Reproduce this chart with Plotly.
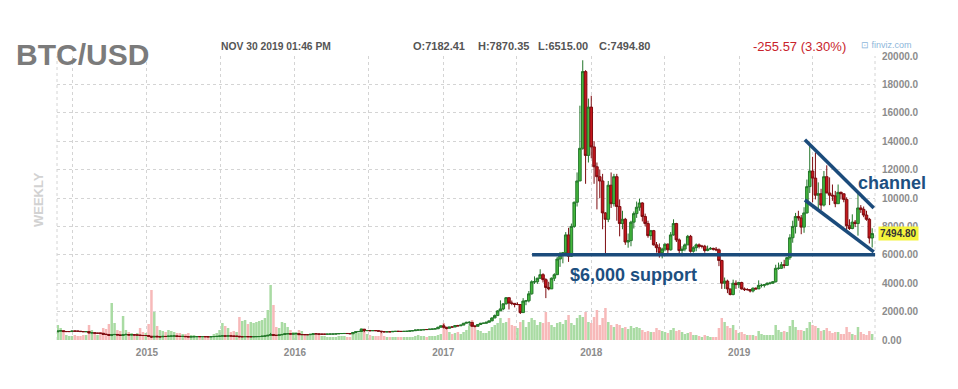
import pandas as pd
import plotly.graph_objects as go

# ---------------- data (weekly candles) ----------------
first_week = "2014-05-26"
first_open = 575.0

closes = [
    # 2014 (from May 26)
    630, 655, 595, 595, 595, 630, 625, 620, 595, 585, 590, 500, 510, 480, 480, 475,
    405, 390, 330, 375, 390, 355, 325, 370, 385, 350, 375, 350, 350, 320, 315, 315,
    # 2015
    265, 210, 255, 225, 225, 255, 245, 275, 275, 285, 260, 250, 255, 235, 220, 225,
    235, 240, 235, 240, 230, 225, 235, 245, 255, 275, 290, 275, 290, 280, 265, 265,
    230, 230, 240, 230, 230, 235, 240, 245, 270, 285, 330, 380, 330, 325, 360, 390,
    435, 440, 420, 430,
    # 2016
    450, 380, 380, 375, 375, 400, 435, 430, 410, 410, 410, 415, 420, 420, 430, 455,
    455, 460, 455, 440, 530, 580, 600, 760, 665, 670, 650, 665, 655, 625, 590, 570,
    580, 575, 605, 610, 608, 600, 610, 615, 640, 655, 700, 705, 705, 740, 735, 765,
    770, 790, 900, 1000,
    # 2017
    900, 825, 920, 915, 1015, 1000, 1050, 1180, 1240, 1240, 970, 965, 1090, 1180, 1180, 1250,
    1345, 1550, 1720, 2050, 2190, 2550, 2980, 2600, 2580, 2500, 2500, 1930, 2740, 2760, 3250, 4100,
    4100, 4350, 4600, 4250, 3700, 3600, 4350, 4600, 5700, 6000, 6150, 7400, 5900, 8000, 9700, 11200,
    13500, 18900, 13000, 16400,
    # 2018
    13600, 12200, 11500, 11200, 8950, 8500, 10900, 9600, 11500, 9400, 8200, 8500, 6900, 7000, 8300, 8900,
    9350, 9650, 8700, 8200, 7350, 7700, 6700, 6500, 6150, 6400, 6750, 6350, 7400, 8200, 7050, 6300,
    6400, 6700, 7300, 6250, 6500, 6700, 6600, 6600, 6300, 6400, 6450, 6400, 6350, 5600, 4000, 4150,
    3600, 3200, 4000, 3900, 4050,
    # 2019
    3600, 3550, 3550, 3450, 3650, 3600, 3850, 3850, 3900, 4000, 4000, 4100, 5050, 5050, 5300, 5250,
    5800, 7200, 8000, 8700, 8600, 7950, 8950, 10800, 11900, 11400, 10200, 10300, 9500, 11500, 10350, 10200,
    10150, 9600, 10400, 10300, 9900, 8050, 7850, 8300, 8200, 9300, 9200, 8800, 8500, 7182.41, 7494.80,
]

highs = [
    # 2014
    635, 680, 660, 610, 615, 650, 640, 630, 625, 600, 600, 590, 525, 515, 490, 485,
    480, 435, 395, 385, 410, 390, 365, 375, 460, 390, 385, 385, 360, 355, 335, 330,
    # 2015
    320, 275, 265, 310, 240, 265, 260, 280, 300, 300, 290, 270, 265, 260, 240, 240,
    245, 245, 245, 245, 242, 232, 238, 255, 260, 280, 310, 295, 300, 298, 285, 275,
    265, 240, 245, 245, 235, 240, 245, 248, 275, 290, 335, 500, 390, 335, 365, 420,
    470, 470, 445, 440,
    # 2016
    465, 450, 410, 395, 380, 405, 445, 440, 440, 420, 420, 420, 425, 425, 432, 460,
    470, 465, 460, 455, 535, 590, 610, 780, 780, 680, 690, 675, 675, 660, 630, 595,
    585, 585, 610, 630, 615, 610, 615, 620, 645, 660, 720, 740, 720, 750, 745, 770,
    775, 795, 930, 1000,
    # 2017
    1140, 910, 925, 925, 1025, 1065, 1055, 1190, 1280, 1330, 1250, 1060, 1100, 1200, 1215, 1255,
    1360, 1600, 1800, 2100, 2790, 2560, 3020, 2980, 2780, 2580, 2650, 2500, 2950, 2820, 3450, 4200,
    4480, 4380, 4980, 4700, 4350, 4100, 4400, 4700, 5850, 6200, 6200, 7600, 7900, 8200, 9750, 11800,
    16500, 19700, 19000, 17000,
    # 2018
    17200, 14000, 12500, 12000, 11700, 9000, 11200, 11800, 11700, 11700, 9900, 9100, 8600, 7500, 8400, 9050,
    9750, 9950, 9700, 8900, 8400, 7750, 7750, 6900, 6800, 6500, 6800, 6800, 7600, 8500, 8250, 7150,
    6600, 6800, 7400, 7400, 6600, 6800, 6800, 6700, 6700, 6650, 6550, 6500, 6550, 6450, 5650, 4400,
    4250, 3600, 4250, 4200, 4100,
    # 2019
    4100, 3700, 3650, 3550, 3700, 3700, 4200, 3950, 3950, 4050, 4100, 4150, 5300, 5450, 5500, 5650,
    5850, 7450, 8400, 8950, 9100, 8800, 9350, 11300, 13800, 12900, 13200, 11100, 10650, 11900, 12300, 11450,
    10950, 10500, 10950, 10450, 10300, 10050, 8500, 8850, 8450, 10350, 9500, 9400, 9100, 8600, 7870.35,
]

lows = [
    # 2014
    565, 620, 560, 560, 560, 595, 610, 605, 590, 575, 575, 460, 470, 470, 470, 440,
    395, 385, 290, 275, 365, 345, 320, 320, 365, 345, 345, 345, 345, 305, 310, 310,
    # 2015
    255, 165, 200, 215, 210, 215, 230, 235, 270, 270, 245, 240, 235, 230, 215, 215,
    220, 230, 230, 230, 225, 220, 220, 230, 240, 250, 265, 270, 270, 275, 255, 255,
    195, 210, 225, 225, 225, 225, 235, 235, 245, 265, 280, 320, 305, 315, 315, 355,
    385, 430, 410, 415,
    # 2016
    425, 360, 365, 365, 365, 370, 400, 410, 400, 405, 405, 405, 410, 415, 420, 425,
    440, 440, 445, 435, 440, 520, 570, 600, 550, 610, 630, 645, 650, 620, 480, 565,
    565, 570, 570, 600, 600, 590, 595, 605, 615, 630, 650, 690, 700, 695, 725, 730,
    755, 765, 790, 880,
    # 2017
    810, 750, 820, 880, 910, 945, 990, 1050, 1170, 1000, 940, 890, 960, 1070, 1160, 1160,
    1240, 1340, 1550, 1700, 2050, 2100, 2500, 2150, 2450, 2300, 2450, 1830, 1900, 2450, 2650, 3200,
    3950, 3950, 4300, 4050, 2950, 3500, 3600, 4150, 4600, 5150, 5400, 6100, 5500, 5850, 7900, 9400,
    11200, 13400, 11000, 12500,
    # 2018
    12800, 11000, 9200, 10000, 7800, 6000, 8300, 9300, 9400, 8400, 7300, 7800, 6700, 6500, 6600, 7850,
    8600, 9100, 8350, 8000, 7200, 7050, 6650, 6150, 5800, 5750, 6250, 6100, 6300, 7350, 6900, 5950,
    5900, 6250, 6700, 6150, 6150, 6250, 6450, 6450, 6150, 6250, 6350, 6300, 6250, 5200, 3600, 3600,
    3300, 3150, 3150, 3600, 3650,
    # 2019
    3550, 3450, 3480, 3350, 3350, 3550, 3600, 3700, 3700, 3850, 3900, 3950, 4050, 4950, 5000, 5050,
    5250, 5650, 6850, 7500, 8400, 7450, 7550, 8900, 10350, 9700, 9900, 9100, 9150, 9400, 10350, 9500,
    9800, 9350, 9600, 9900, 9700, 7750, 7750, 7800, 7950, 7350, 8950, 8650, 8400, 6800, 6515.00,
]

volumes = [
    # 2014
    15, 12, 8, 5, 4, 4, 5, 4, 4, 5, 5, 15, 10, 6, 5, 8,
    12, 11, 16, 37, 17, 10, 9, 24, 10, 8, 7, 6, 7, 12, 8, 7,
    # 2015
    16, 50, 28, 14, 10, 9, 8, 10, 9, 8, 7, 7, 6, 6, 7, 5,
    5, 4, 4, 3, 4, 4, 4, 6, 7, 10, 17, 14, 12, 8, 9, 8,
    23, 19, 20, 16, 18, 17, 18, 19, 20, 22, 30, 55, 35, 13, 12, 18,
    17, 13, 10, 8,
    # 2016
    8, 10, 9, 6, 5, 5, 6, 5, 5, 4, 4, 3, 3, 3, 3, 4,
    4, 4, 3, 3, 6, 8, 7, 12, 11, 6, 5, 4, 4, 4, 7, 4,
    3, 3, 3, 3, 3, 3, 3, 3, 3, 3, 4, 5, 4, 4, 3, 4,
    4, 4, 5, 6,
    # 2017
    17, 12, 8, 6, 7, 8, 6, 8, 10, 14, 20, 14, 10, 9, 7, 7,
    9, 13, 15, 17, 22, 17, 18, 22, 15, 14, 12, 18, 20, 13, 18, 22,
    20, 15, 18, 17, 28, 18, 15, 13, 17, 18, 16, 20, 25, 17, 15, 22,
    25, 23, 28, 18,
    # 2018
    17, 23, 30, 15, 22, 32, 18, 15, 13, 16, 15, 12, 13, 11, 14, 12,
    13, 12, 10, 8, 9, 8, 8, 12, 10, 9, 8, 7, 10, 12, 9, 10,
    8, 6, 7, 8, 5, 5, 4, 3, 5, 4, 3, 3, 3, 12, 22, 18,
    14, 12, 15, 10, 7,
    # 2019
    8, 6, 5, 5, 5, 4, 9, 6, 5, 5, 5, 5, 15, 10, 8, 9,
    8, 14, 20, 13, 10, 10, 9, 12, 18, 15, 14, 12, 9, 10, 12, 9,
    7, 8, 8, 6, 6, 13, 8, 6, 5, 13, 8, 6, 5, 9, 6,
]

price_ticks = [0, 2000, 4000, 6000, 8000, 10000, 12000, 14000, 16000, 18000, 20000]
price_tick_labels = ["0.00", "2000.00", "4000.00", "6000.00", "8000.00", "10000.0",
                     "12000.0", "14000.0", "16000.0", "18000.0", "20000.0"]
year_ticks = ["2015-01-01", "2016-01-01", "2017-01-01", "2018-01-01", "2019-01-01"]
year_labels = ["2015", "2016", "2017", "2018", "2019"]
mid_year_ticks = ["2014-07-01", "2015-07-01", "2016-07-01", "2017-07-01",
                  "2018-07-01", "2019-07-01"]

support_level = 6000
support_span = ["2017-08-08", "2019-12-02"]
channel_upper_x = ["2019-06-12", "2019-11-29"]
channel_upper_y = [14100, 9300]
channel_lower_x = ["2019-06-12", "2019-11-29"]
channel_lower_y = [9860, 6200]

last_close = 7494.80
header_time = "NOV 30 2019 01:46 PM"
header_ohlc = ["O:7182.41", "H:7870.35", "L:6515.00", "C:7494.80"]
header_change = "-255.57 (3.30%)"

# ---------------- figure ----------------
dates = pd.date_range(first_week, periods=len(closes), freq="7D")
opens = [first_open] + closes[:-1]
vol_colors = ["#a9dba3" if c >= o else "#f7b9b9" for o, c in zip(opens, closes)]

FONT = "Liberation Sans, Arial, Helvetica, sans-serif"
GRID = "#d4d4d4"
NAVY = "#1b4b7b"

# page body has an 8px margin: figure is 950x381 placed at (8, 8)
W, H = 950, 381
ML, MR, MT, MB = 49, 83, 48, 49
PW, PH = W - ML - MR, H - MT - MB


def px_x(sx):
    """screen x (page pixels) -> paper x"""
    return (sx - 8 - ML) / PW


def px_y(sy):
    """screen y (page pixels) -> paper y"""
    return (H - MB - (sy - 8)) / PH


fig = go.Figure()
fig.add_trace(go.Bar(
    x=dates, y=volumes, marker_color=vol_colors, marker_line_width=0,
    yaxis="y", showlegend=False, hoverinfo="skip",
))
fig.add_trace(go.Candlestick(
    x=dates, open=opens, high=highs, low=lows, close=closes, yaxis="y2",
    increasing=dict(fillcolor="#44b83c", line=dict(color="#23762a", width=1)),
    decreasing=dict(fillcolor="#c4161c", line=dict(color="#7e0c10", width=1)),
    whiskerwidth=0, showlegend=False,
))

line_shapes = [
    dict(type="line", xref="x", yref="y2", x0=support_span[0], x1=support_span[1],
         y0=support_level, y1=support_level, line=dict(color=NAVY, width=3.5)),
    dict(type="line", xref="x", yref="y2", x0=channel_upper_x[0], x1=channel_upper_x[1],
         y0=channel_upper_y[0], y1=channel_upper_y[1], line=dict(color=NAVY, width=3.5)),
    dict(type="line", xref="x", yref="y2", x0=channel_lower_x[0], x1=channel_lower_x[1],
         y0=channel_lower_y[0], y1=channel_lower_y[1], line=dict(color=NAVY, width=3.5)),
    dict(type="line", xref="paper", yref="paper", x0=0, x1=0, y0=0, y1=1,
         line=dict(color=GRID, width=1, dash="dot"), layer="below"),
    dict(type="line", xref="paper", yref="paper", x0=1, x1=1, y0=0, y1=1,
         line=dict(color=GRID, width=1, dash="dot"), layer="below"),
]

hdr_font = dict(family=FONT, size=11, color="#555555")
annotations = [
    dict(text="<b>BTC/USD</b>", xref="paper", yref="paper", x=px_x(14), y=px_y(55),
         xanchor="left", yanchor="middle", showarrow=False,
         font=dict(family=FONT, size=30, color="#7b7b7b")),
    dict(text="<b>" + header_time + "</b>", xref="paper", yref="paper", x=px_x(219), y=px_y(46),
         xanchor="left", yanchor="middle", showarrow=False,
         font=dict(family=FONT, size=10.3, color="#555555")),
    dict(text=header_change, xref="paper", yref="paper", x=px_x(751), y=px_y(47),
         xanchor="left", yanchor="middle", showarrow=False,
         font=dict(family=FONT, size=13, color="#c8232c")),
    dict(text="⊡ finviz.com", xref="paper", yref="paper", x=px_x(859), y=px_y(45),
         xanchor="left", yanchor="middle", showarrow=False,
         font=dict(family=FONT, size=9, color="#8db6da")),
    dict(text="<b>WEEKLY</b>", xref="paper", yref="paper", x=px_x(38), y=px_y(200),
         xanchor="center", yanchor="middle", textangle=-90, showarrow=False,
         font=dict(family=FONT, size=13, color="#d2d2d2")),
    dict(text="<b>%.2f</b>" % last_close, xref="paper", yref="y2", x=px_x(878), y=last_close,
         xanchor="left", yanchor="middle", showarrow=False, bgcolor="#f4f43c",
         borderpad=1, font=dict(family=FONT, size=10, color="#333333")),
    dict(text="<b>$6,000 support</b>", xref="x", yref="y2", x="2018-04-14", y=4580,
         xanchor="center", yanchor="middle", showarrow=False,
         font=dict(family=FONT, size=18, color="#1d4f80")),
    dict(text="<b>channel</b>", xref="paper", yref="y2", x=px_x(892), y=11056,
         xanchor="center", yanchor="middle", showarrow=False,
         font=dict(family=FONT, size=18, color="#1d4f80")),
]
for label, sx in zip(header_ohlc, [411, 476, 536, 597]):
    annotations.append(dict(text="<b>" + label + "</b>", xref="paper", yref="paper",
                            x=px_x(sx), y=px_y(46), xanchor="left", yanchor="middle",
                            showarrow=False, font=hdr_font))

fig.update_layout(
    width=W, height=H,
    margin=dict(l=ML, r=MR, t=MT, b=MB),
    paper_bgcolor="white", plot_bgcolor="white",
    font=dict(family=FONT),
    bargap=0.12, boxgap=0.05, boxgroupgap=0.05,
    xaxis=dict(
        type="date", range=["2014-05-24", "2019-12-02"],
        tickvals=year_ticks + mid_year_ticks,
        ticktext=year_labels + [""] * len(mid_year_ticks),
        showgrid=True, gridcolor=GRID, griddash="dot", gridwidth=1,
        zeroline=False, showline=False, ticks="", ticklabelstandoff=5,
        tickfont=dict(family=FONT, size=10, color="#8c8c8c", weight="bold"),
        rangeslider=dict(visible=False), fixedrange=True,
    ),
    yaxis=dict(range=[0, 284], visible=False, showgrid=False, fixedrange=True),
    yaxis2=dict(
        overlaying="y", side="right", range=[0, 20000],
        tickvals=price_ticks, ticktext=price_tick_labels,
        showgrid=True, gridcolor=GRID, griddash="dot", gridwidth=1,
        zeroline=False, showline=False, ticks="", ticklabelstandoff=6,
        tickfont=dict(family=FONT, size=10, color="#8c8c8c", weight="bold"),
        fixedrange=True,
    ),
    shapes=line_shapes,
    annotations=annotations,
    hovermode=False,
)

fig.write_html("out.html")
